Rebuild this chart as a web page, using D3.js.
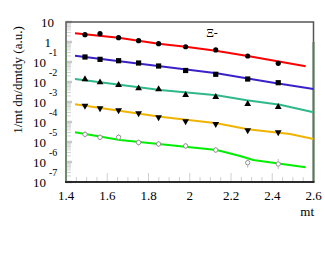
<!DOCTYPE html>
<html><head><meta charset="utf-8">
<script src="https://cdn.jsdelivr.net/npm/d3@7"></script>
<style>body{margin:0;background:#fff}svg{display:block}text{font-family:"Liberation Serif","Times New Roman",serif;fill:#000}</style>
</head><body>
<script>
// point mt positions
const mtPoints = [1.492, 1.565, 1.655, 1.752, 1.849, 1.980, 2.126, 2.281, 2.429];
// series points (dn/dmtdy, a.u.)
const redPts    = [2.32, 2.6, 1.64, 1.16, 0.82, 0.58, 0.40, 0.20, 0.086];
const bluePts   = [0.178, 0.136, 0.116, 0.089, 0.063, 0.0376, 0.0243, 0.0141, 0.00923];
const tealPts   = [0.01365, 0.00966, 0.00708, 0.00484, 0.00432, 0.00224, 0.00178, 0.000794, 0.000562];
const orangePts = [6.53e-4, 4.84e-4, 3.85e-4, 2.72e-4, 1.72e-4, 1.08e-4, 7.94e-5, 3.85e-5, 3.05e-5];
const greenPts  = [2.43e-5, 1.72e-5, 1.72e-5, 9.44e-6, 7.94e-6, 6.31e-6, 3.98e-6, 9.2e-7, 7.94e-7];
// fit curves: mt knots and log10 values
const redLineX    = [1.4436, 1.655, 1.849, 1.980, 2.126, 2.281, 2.562];
const redLineY    = [0.435, 0.215, -0.085, -0.235, -0.435, -0.7, -1.215];
const blueLineX   = [1.4436, 1.856, 2.131, 2.325, 2.406, 2.6];
const blueLineY   = [-0.685, -1.215, -1.565, -1.9, -2.035, -2.35];
const tealLineX   = [1.4436, 1.856, 2.131, 2.276, 2.438, 2.6];
const tealLineY   = [-1.85, -2.4, -2.665, -2.915, -3.135, -3.515];
const orangeLineX = [1.4436, 1.856, 2.131, 2.281, 2.486, 2.6];
const orangeLineY = [-3.115, -3.735, -4.065, -4.365, -4.6, -4.85];
const greenLineX  = [1.4436, 1.662, 2.131, 2.244, 2.308, 2.562];
const greenLineY  = [-4.515, -4.9, -5.4, -5.7, -5.9, -6.265];
const xTicks = [1.4, 1.6, 1.8, 2.0, 2.2, 2.4, 2.6];
const xTickLabels = ["1.4", "1.6", "1.8", "2", "2.2", "2.4", "2.6"];
const yDecades = [1, 0, -1, -2, -3, -4, -5, -6, -7];

const W = 325, H = 254;
const svg = d3.select("body").append("svg").attr("width", W).attr("height", H);
const x = d3.scaleLinear().domain([1.4, 2.6]).range([66, 313.5]);
const y = d3.scaleLog().domain([1e-7, 10]).range([182, 22]);

// ticks y (inside, light gray)
const gT = svg.append("g");
for (let d = -7; d < 1; d++) {
  for (let m = 2; m <= 9; m++) {
    const yy = y(m * Math.pow(10, d));
    gT.append("line").attr("x1", 66).attr("x2", 71).attr("y1", yy).attr("y2", yy)
      .attr("stroke", "#d2d2d2").attr("stroke-width", 1);
  }
}
yDecades.forEach(d => {
  const yy = y(Math.pow(10, d));
  gT.append("line").attr("x1", 66).attr("x2", 72).attr("y1", yy).attr("y2", yy)
    .attr("stroke", "#c8c8c8").attr("stroke-width", 2.5);
});
// ticks x
for (let v = 1.4; v <= 2.6001; v += 0.05) {
  const major = Math.abs(Math.round(v * 5) - v * 5) < 1e-6;
  gT.append("line").attr("x1", x(v)).attr("x2", x(v)).attr("y1", 182).attr("y2", 182 - (major ? 9 : 5))
    .attr("stroke", "#cfcfcf").attr("stroke-width", 1);
}

// frame
svg.append("rect").attr("x", 66).attr("y", 22).attr("width", 247.5).attr("height", 160)
  .attr("fill", "none").attr("stroke", "#555").attr("stroke-width", 1.5);
svg.append("line").attr("x1", 66).attr("x2", 66).attr("y1", 42).attr("y2", 182).attr("stroke", "#6a8a6a").attr("stroke-width", 2);
svg.append("line").attr("x1", 313.5).attr("x2", 313.5).attr("y1", 42).attr("y2", 182).attr("stroke", "#5a7a5a").attr("stroke-width", 2);
svg.append("line").attr("x1", 65).attr("x2", 314.5).attr("y1", 182).attr("y2", 182).attr("stroke", "#111").attr("stroke-width", 1.5);

// x labels
xTicks.forEach((v, i) => {
  svg.append("text").attr("x", x(v)).attr("y", 200).attr("text-anchor", "middle")
    .attr("font-size", 13).text(xTickLabels[i]);
});
svg.append("text").attr("x", 314).attr("y", 216).attr("text-anchor", "end").attr("font-size", 13).text("mt");

// y labels
svg.append("text").attr("x", 54).attr("y", y(10) + 4.5).attr("text-anchor", "end").attr("font-size", 13).text("10");
svg.append("text").attr("x", 51).attr("y", y(1) + 4.5).attr("text-anchor", "end").attr("font-size", 13).text("1");
yDecades.filter(d => d < 0).forEach(d => {
  const yy = y(Math.pow(10, d));
  svg.append("text").attr("x", 46).attr("y", yy + 4.5).attr("text-anchor", "end").attr("font-size", 13).text("10");
  svg.append("text").attr("x", 49).attr("y", yy - 6).attr("text-anchor", "start").attr("font-size", 10).text(String(d));
});
svg.append("text").attr("transform", "translate(22,80) rotate(-90)").attr("text-anchor", "middle")
  .attr("font-size", 13).text("1/mt dn/dmtdy (a.u.)");
svg.append("text").attr("x", 212).attr("y", 37).attr("text-anchor", "middle").attr("font-size", 12).text("Ξ-");

// fit lines
const line = d3.line().x(d => x(d[0])).y(d => y(Math.pow(10, d[1])));
const lines = [
  [redLineX, redLineY, "#ff0000"],
  [blueLineX, blueLineY, "#3a22c8"],
  [tealLineX, tealLineY, "#2fb88a"],
  [orangeLineX, orangeLineY, "#f0b400"],
  [greenLineX, greenLineY, "#00ee00"]
];
lines.forEach(([xs, ys, c]) => {
  svg.append("path").datum(xs.map((v, i) => [v, ys[i]])).attr("d", line)
    .attr("fill", "none").attr("stroke", c).attr("stroke-width", 2);
});

// markers
const g = svg.append("g");
mtPoints.forEach((m, i) => {
  g.append("circle").attr("cx", x(m)).attr("cy", y(redPts[i])).attr("r", 2.6).attr("fill", "#000");
  g.append("rect").attr("x", x(m) - 2.6).attr("y", y(bluePts[i]) - 2.6).attr("width", 5.2).attr("height", 5.2).attr("fill", "#000");
  const tu = d3.symbol().type(d3.symbolTriangle).size(20);
  g.append("path").attr("d", tu()).attr("transform", `translate(${x(m)},${y(tealPts[i])})`).attr("fill", "#000");
  g.append("path").attr("d", tu()).attr("transform", `translate(${x(m)},${y(orangePts[i])}) rotate(180)`).attr("fill", "#000");
  const gy = y(greenPts[i]);
  g.append("line").attr("x1", x(m)).attr("x2", x(m)).attr("y1", gy - (i >= 7 ? 5 : 3)).attr("y2", gy + (i >= 7 ? 5 : 3))
    .attr("stroke", "#aaa").attr("stroke-width", 0.8);
  g.append("circle").attr("cx", x(m)).attr("cy", gy).attr("r", 2.2).attr("fill", "#fff").attr("stroke", "#888").attr("stroke-width", 0.9);
});
</script>
</body></html>
